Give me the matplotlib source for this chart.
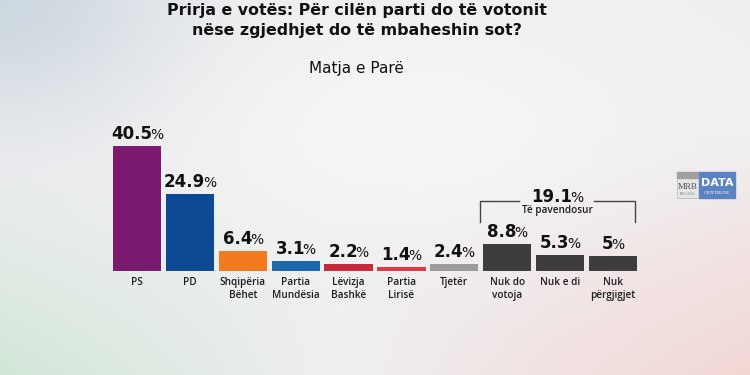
import numpy as np
import matplotlib
matplotlib.use("Agg")
import matplotlib.pyplot as plt
from matplotlib.patches import Rectangle

categories = ["PS", "PD", "Shqipëria\nBëhet", "Partia\nMundësia", "Lëvizja\nBashkë",
              "Partia\nLirisë", "Tjetër", "Nuk do\nvotoja", "Nuk e di", "Nuk\npërgjigjet"]
values = [40.5, 24.9, 6.4, 3.1, 2.2, 1.4, 2.4, 8.8, 5.3, 5]
value_labels = ["40.5", "24.9", "6.4", "3.1", "2.2", "1.4", "2.4", "8.8", "5.3", "5"]
colors = ["#7a1b6f", "#0e4a94", "#f47a1f", "#1c68ad", "#c62a3a", "#df3945",
          "#9c9c9c", "#3d3d3d", "#3d3d3d", "#3d3d3d"]
undecided_total = "19.1"
undecided_label = "Të pavendosur"
title_lines = ["Prirja e votës: Për cilën parti do të votonit",
               "nëse zgjedhjet do të mbaheshin sot?"]
subtitle = "Matja e Parë"

FONT = "DejaVu Sans"
LFONT = "Open Sans"
W, H = 750, 375
fig = plt.figure(figsize=(7.5, 3.75), dpi=100)
fig.canvas.draw()
R = fig.canvas.get_renderer()


def fit(t, width_px):
    w = t.get_window_extent(R).width
    t.set_fontsize(t.get_fontsize() * width_px / w)


# background gradient
bg = fig.add_axes([0, 0, 1, 1])
yy, xx = np.mgrid[0:1:200j, 0:1:400j]
base = np.array([0.94, 0.94, 0.945])
img = np.ones((200, 400, 3)) * base
tl = np.exp(-((xx - 0.0) ** 2 / 0.06 + (yy - 0.0) ** 2 / 0.12))
img += tl[..., None] * (np.array([0.81, 0.85, 0.88]) - base)
ll = np.clip((yy - 0.45) / 0.55, 0, 1) * np.clip(1 - xx / 0.45, 0, 1)
img += ll[..., None] * (np.array([0.82, 0.90, 0.84]) - base)
lr = np.clip((yy - 0.35) / 0.65, 0, 1) * np.clip((xx - 0.45) / 0.55, 0, 1)
img += lr[..., None] * (np.array([0.95, 0.84, 0.83]) - base)
cc = np.exp(-((xx - 0.55) ** 2 / 0.08 + (yy - 0.35) ** 2 / 0.08))
img += cc[..., None] * (np.array([0.975, 0.97, 0.97]) - img) * 0.8
bg.imshow(np.clip(img, 0, 1), extent=[0, W, H, 0], aspect="auto", interpolation="bilinear")
bg.set_xlim(0, W)
bg.set_ylim(H, 0)
bg.axis("off")

# main axes
x_left, x_right = 110.5, 639.5
y_base = 271
scale = 3.09
ymax = 50
ax = fig.add_axes([x_left / W, (H - y_base) / H, (x_right - x_left) / W, ymax * scale / H])
ax.set_xlim(-0.5, len(values) - 0.5)
ax.set_ylim(0, ymax)
ax.axis("off")
x = np.arange(len(values))
ax.bar(x, values, width=0.91, color=colors, zorder=2)
ax.axhline(0, color="#8a8a8a", lw=0.8, zorder=3)

px = 72 / fig.dpi
NUM_FS, PCT_FS = 12, 10
GAP = -2.2
for xi, v, lab in zip(x, values, value_labels):
    t1 = ax.annotate(lab, (xi, v), xytext=(0, 5), textcoords="offset points",
                     ha="left", va="baseline", fontsize=NUM_FS, fontweight="bold",
                     family=FONT, color="#111111")
    t2 = ax.annotate("%", (xi, v), xytext=(0, 5), textcoords="offset points",
                     ha="left", va="baseline", fontsize=PCT_FS, fontweight="normal",
                     family=FONT, color="#111111")
    w1 = t1.get_window_extent(R).width
    w2 = t2.get_window_extent(R).width
    tot = w1 + w2 + GAP
    t1.xyann = (-tot / 2 * px, 5)
    t2.xyann = ((-tot / 2 + w1 + GAP) * px, 5)

lab_texts = []
for xi in x:
    lab_texts.append(ax.annotate(categories[xi], (xi, 0), xytext=(0, -4),
                                 textcoords="offset points", ha="center", va="top",
                                 fontsize=7.2, fontweight="semibold", family=LFONT,
                                 color="#1e1e1e", linespacing=1.3))

# bracket
fig.add_artist(plt.Line2D([480 / W, 480 / W, 519 / W], [1 - 222 / H, 1 - 201 / H, 1 - 201 / H],
                          color="#444444", lw=1.0))
fig.add_artist(plt.Line2D([594 / W, 635 / W, 635 / W], [1 - 201 / H, 1 - 201 / H, 1 - 222 / H],
                          color="#444444", lw=1.0))
tb = fig.text(0, 1 - 202 / H, undecided_total, fontsize=NUM_FS, fontweight="bold", family=FONT,
              ha="left", va="baseline", color="#111111")
tp = fig.text(0, 1 - 202 / H, "%", fontsize=PCT_FS, family=FONT, ha="left", va="baseline",
              color="#111111")
wb = tb.get_window_extent(R).width
wp = tp.get_window_extent(R).width
cx = 557
tot = wb + wp + GAP
tb.set_x((cx - tot / 2) / W)
tp.set_x((cx - tot / 2 + wb + GAP) / W)
fig.text(cx / W, 1 - 211 / H, undecided_label, fontsize=7.2, fontweight="semibold",
         family=LFONT, ha="center", va="center", color="#1e1e1e")

# titles
t_a = fig.text(357 / W, 1 - 15.5 / H, title_lines[0], fontsize=12, fontweight="bold",
               family=FONT, ha="center", va="baseline", color="#111111")
fit(t_a, 378)
t_b = fig.text(357 / W, 1 - 34.5 / H, title_lines[1], fontsize=t_a.get_fontsize(),
               fontweight="bold", family=FONT, ha="center", va="baseline", color="#111111")
t_s = fig.text(356 / W, 1 - 73 / H, subtitle, fontsize=10, family=FONT, ha="center",
               va="baseline", color="#111111")
fit(t_s, 95)

# logo
bg.add_patch(Rectangle((677, 172), 22, 26, facecolor="#e6e6e6", edgecolor="#bdbdbd", lw=0.6))
bg.add_patch(Rectangle((677, 172), 22, 6, color="#a0a0a0"))
bg.add_patch(Rectangle((699, 172), 36, 26, color="#5b83c2"))
bg.text(688, 187, "MRB", fontsize=6.5, family="Liberation Serif", ha="center", va="center",
        color="#555555")
bg.text(688, 194, "BELLUSA", fontsize=2.5, family="Liberation Serif", ha="center",
        va="center", color="#777777")
bg.text(717, 183, "DATA", fontsize=8, fontweight="bold", family=FONT, ha="center",
        va="center", color="white")
bg.text(717, 193, "CENTRUM", fontsize=3.8, family="Liberation Serif", ha="center",
        va="center", color="white")

fig.savefig("out.png", dpi=100)
